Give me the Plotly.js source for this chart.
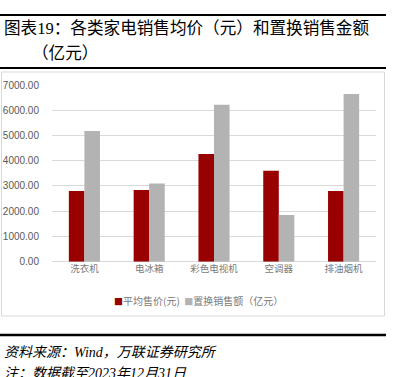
<!DOCTYPE html>
<html>
<head>
<meta charset="utf-8">
<script src="https://cdn.plot.ly/plotly-3.0.1.min.js"></script>
<style>html,body{margin:0;padding:0;background:#fff;}#chart{width:400px;height:377px;}</style>
</head>
<body>
<div id="chart"></div>
<script>
const categories = ["洗衣机", "电冰箱", "彩色电视机", "空调器", "排油烟机"];
const avgPrice = [2800, 2840, 4270, 3600, 2800];
const replaceSales = [5180, 3100, 6220, 1850, 6640];
const seriesNames = ["平均售价(元)", "置换销售额（亿元）"];
const seriesColors = ["#990000", "#B3B3B3"];
const tickVals = [0, 1000, 2000, 3000, 4000, 5000, 6000, 7000];
const tickText = tickVals.map(v => v.toFixed(2));

const H = 377, W = 400;
const py = y => 1 - y / H;
const px = x => x / W;
const axisFont = {family: "Liberation Sans Narrow, Liberation Sans, sans-serif", size: 10, color: "#595959"};
const cjkFont = "Liberation Serif, Noto Sans CJK SC, serif";

const data = [
  {type: "bar", name: seriesNames[0], x: categories, y: avgPrice, marker: {color: seriesColors[0]}},
  {type: "bar", name: seriesNames[1], x: categories, y: replaceSales, marker: {color: seriesColors[1]}}
];

const legendText = seriesNames.map((n, i) =>
  `<span style="color:${seriesColors[i]};font-size:9px">■</span>${n}`).join("  ");

const layout = {
  width: W, height: H,
  margin: {l: 0, r: 0, t: 0, b: 0},
  paper_bgcolor: "#fff", plot_bgcolor: "#fff",
  barmode: "group", bargap: 0.52, bargroupgap: 0,
  showlegend: false,
  xaxis: {domain: [px(52), px(376)], type: "category", showgrid: false, zeroline: false,
          showline: false, ticks: "", tickfont: {family: "Noto Sans CJK SC", size: 9.5, color: "#7A7A7A"},
          fixedrange: true},
  yaxis: {domain: [py(261.7), py(85)], range: [0, 7000], tickvals: tickVals, ticktext: tickText,
          showgrid: true, gridcolor: "#D9D9D9", gridwidth: 1, zeroline: true, zerolinecolor: "#D9D9D9",
          showline: false, ticks: "", tickfont: axisFont, ticklabelstandoff: 12, fixedrange: true},
  shapes: [
    {type: "line", xref: "paper", yref: "paper", x0: 0, x1: px(386), y0: py(15), y1: py(15), line: {color: "#000", width: 2}},
    {type: "line", xref: "paper", yref: "paper", x0: 0, x1: px(386), y0: py(68), y1: py(68), line: {color: "#000", width: 2}},
    {type: "rect", xref: "paper", yref: "paper", x0: px(1.5), x1: px(384.5), y0: py(316), y1: py(72), line: {color: "#D9D9D9", width: 1}},
    {type: "line", xref: "paper", yref: "paper", x0: 0, x1: px(386), y0: py(335), y1: py(335), line: {color: "#000", width: 2.5}}
  ],
  annotations: [
    {xref: "paper", yref: "paper", x: px(2), y: py(29), xanchor: "left", yanchor: "middle", showarrow: false,
     text: "图表19：各类家电销售均价（元）和置换销售金额", font: {family: cjkFont, size: 16.6, color: "#000"}},
    {xref: "paper", yref: "paper", x: px(30), y: py(53), xanchor: "left", yanchor: "middle", showarrow: false,
     text: "（亿元）", font: {family: cjkFont, size: 16.6, color: "#000"}},
    {xref: "paper", yref: "paper", x: px(112), y: py(300), xanchor: "left", yanchor: "middle", showarrow: false,
     text: legendText, font: {family: "Noto Sans CJK SC", size: 10, color: "#7A7A7A"}},
    {xref: "paper", yref: "paper", x: px(2), y: py(352), xanchor: "left", yanchor: "middle", showarrow: false,
     text: "<i>资料来源：Wind，万联证券研究所</i>", font: {family: cjkFont, size: 14, color: "#000"}},
    {xref: "paper", yref: "paper", x: px(2), y: py(373), xanchor: "left", yanchor: "middle", showarrow: false,
     text: "<i>注：数据截至2023年12月31日</i>", font: {family: cjkFont, size: 14, color: "#000"}}
  ]
};

Plotly.newPlot("chart", data, layout, {displayModeBar: false, staticPlot: true});
</script>
</body>
</html>
